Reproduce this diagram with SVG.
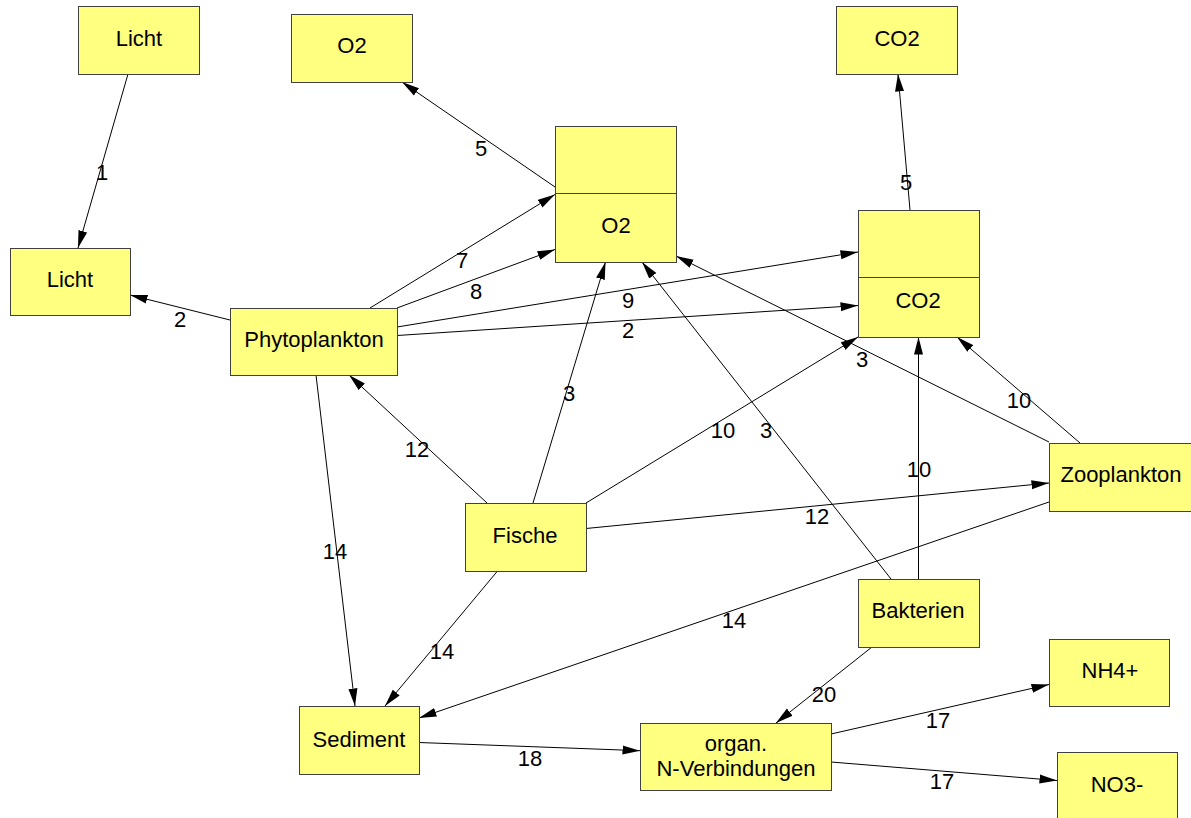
<svg xmlns="http://www.w3.org/2000/svg" width="1191" height="818" viewBox="0 0 1191 818">
<defs>
<style>
.n rect{fill:#ffff80;stroke:#404040;stroke-width:1}
.n line{stroke:#404040;stroke-width:1}
text{font-family:"Liberation Sans",Arial,sans-serif;font-size:22px;fill:#000;text-anchor:middle}
.e line{stroke:#000;stroke-width:1;marker-end:url(#ah)}
</style>
<marker id="ah" markerUnits="userSpaceOnUse" markerWidth="18" markerHeight="10" refX="17.5" refY="5" orient="auto">
<path d="M0,0.5 L17.5,5 L0,9.5 z" fill="#000"/>
</marker>
</defs>
<rect width="1191" height="818" fill="#fff"/>
<g id="connectors" class="e">
<line x1="128" y1="74" x2="78" y2="248"/>
<line x1="230" y1="320" x2="130" y2="295"/>
<line x1="555" y1="187" x2="402" y2="82"/>
<line x1="370" y1="308" x2="555" y2="194.5"/>
<line x1="397" y1="308" x2="555" y2="249.5"/>
<line x1="397" y1="327" x2="858" y2="252"/>
<line x1="397" y1="335.5" x2="858" y2="305.5"/>
<line x1="487" y1="503" x2="349" y2="375"/>
<line x1="533" y1="503" x2="605.5" y2="262"/>
<line x1="586" y1="503" x2="858" y2="337"/>
<line x1="586" y1="528.5" x2="1049" y2="483"/>
<line x1="497.5" y1="571" x2="385" y2="706"/>
<line x1="316" y1="375" x2="355" y2="706"/>
<line x1="1049" y1="502" x2="419" y2="718"/>
<line x1="1080" y1="443" x2="957" y2="337"/>
<line x1="1049" y1="442" x2="676" y2="256"/>
<line x1="891" y1="579" x2="642" y2="262"/>
<line x1="918.5" y1="579" x2="918.5" y2="337"/>
<line x1="910" y1="210" x2="898" y2="74"/>
<line x1="872" y1="647" x2="776" y2="723"/>
<line x1="831" y1="734" x2="1049" y2="684.5"/>
<line x1="831" y1="762" x2="1057" y2="780.5"/>
<line x1="419" y1="742.5" x2="640" y2="750.7"/>
<text x="102" y="180">1</text>
<text x="180" y="327">2</text>
<text x="481" y="156">5</text>
<text x="462" y="268">7</text>
<text x="476" y="299">8</text>
<text x="628" y="308">9</text>
<text x="628" y="338">2</text>
<text x="417" y="457">12</text>
<text x="569" y="401">3</text>
<text x="723" y="438">10</text>
<text x="817" y="524">12</text>
<text x="442" y="659">14</text>
<text x="335" y="559">14</text>
<text x="734" y="628">14</text>
<text x="1019" y="408">10</text>
<text x="862" y="367">3</text>
<text x="766" y="438">3</text>
<text x="919" y="477">10</text>
<text x="906" y="190">5</text>
<text x="824" y="702">20</text>
<text x="938" y="728">17</text>
<text x="942" y="789">17</text>
<text x="530" y="766">18</text>
</g>
<g id="licht1" class="n"><rect x="78.5" y="6.5" width="121" height="68"/><text x="139" y="46">Licht</text></g>
<g id="o2out" class="n"><rect x="291.5" y="14.5" width="121" height="68"/><text x="352" y="53">O2</text></g>
<g id="co2out" class="n"><rect x="836.5" y="6.5" width="121" height="68"/><text x="897" y="46">CO2</text></g>
<g id="licht2" class="n"><rect x="10.5" y="248.5" width="120" height="67"/><text x="70" y="287">Licht</text></g>
<g id="phyto" class="n"><rect x="230.5" y="308.5" width="167" height="67"/><text x="314" y="347">Phytoplankton</text></g>
<g id="o2" class="n"><rect x="555.5" y="126.5" width="121" height="136"/><line x1="555.5" y1="193.5" x2="676.5" y2="193.5"/><text x="616" y="233">O2</text></g>
<g id="co2" class="n"><rect x="858.5" y="210.5" width="121" height="127"/><line x1="858.5" y1="277.5" x2="979.5" y2="277.5"/><text x="918" y="308">CO2</text></g>
<g id="fische" class="n"><rect x="465.5" y="503.5" width="121" height="68"/><text x="525" y="543">Fische</text></g>
<g id="zoo" class="n"><rect x="1049.5" y="443.5" width="143" height="68"/><text x="1121" y="482">Zooplankton</text></g>
<g id="bakt" class="n"><rect x="858.5" y="579.5" width="121" height="68"/><text x="918" y="618">Bakterien</text></g>
<g id="sediment" class="n"><rect x="299.5" y="706.5" width="120" height="68"/><text x="359" y="747">Sediment</text></g>
<g id="organ" class="n"><rect x="640.5" y="723.5" width="191" height="67"/><text x="736" y="751">organ.</text><text x="736" y="776">N-Verbindungen</text></g>
<g id="nh4" class="n"><rect x="1049.5" y="639.5" width="120" height="67"/><text x="1110" y="678">NH4+</text></g>
<g id="no3" class="n"><rect x="1057.5" y="752.5" width="120" height="80"/><text x="1117" y="792">NO3-</text></g>
</svg>
